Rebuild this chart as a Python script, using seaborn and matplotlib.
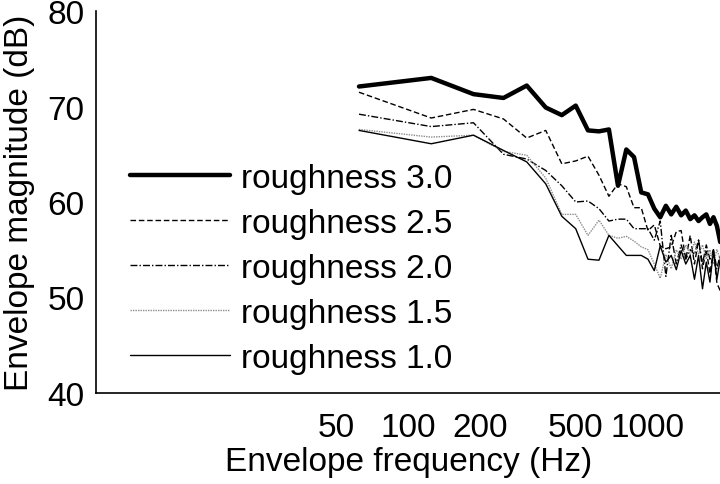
import numpy as np
import pandas as pd
import matplotlib
matplotlib.use("Agg")
import matplotlib.pyplot as plt
import seaborn as sns

# envelope frequencies: harmonics of 62.5 Hz
freqs = [62.5 * k for k in range(1, 33)]

rough_30 = [72.1, 73.0, 71.3, 70.9, 72.2, 69.9, 69.1, 70.1, 67.5, 67.4,
            67.6, 61.7, 65.5, 64.7, 61.0, 60.8, 59.3, 58.4, 59.6, 58.7,
            59.5, 58.6, 59.1, 58.2, 58.6, 58.0, 58.4, 58.7, 57.7, 58.4,
            57.5, 55.8]
rough_25 = [71.5, 68.8, 69.7, 68.7, 66.7, 67.5, 64.0, 64.3, 64.8, 62.8,
            60.6, 61.9, 61.6, 59.4, 59.4, 57.0, 57.6, 55.4, 55.1, 55.3,
            56.9, 57.0, 54.0, 56.5, 53.5, 56.0, 53.0, 55.0, 52.5, 55.0,
            51.5, 50.7]
rough_20 = [69.2, 67.9, 68.3, 65.0, 64.5, 63.3, 61.7, 60.0, 60.1, 59.3,
            58.0, 58.2, 58.2, 57.2, 57.2, 57.2, 56.0, 58.0, 52.2, 56.5,
            53.5, 55.5, 54.0, 55.0, 54.5, 56.0, 53.5, 55.5, 54.0, 55.0,
            53.0, 54.5]
rough_15 = [67.6, 66.8, 67.0, 65.3, 64.9, 62.5, 58.7, 58.7, 56.5, 58.1,
            56.5, 56.2, 56.4, 55.9, 55.3, 55.0, 53.5, 52.0, 54.5, 53.0,
            55.0, 54.0, 55.5, 54.5, 55.8, 54.5, 55.5, 54.0, 55.0, 53.5,
            55.0, 54.0]
rough_10 = [67.5, 66.1, 67.0, 65.4, 64.2, 61.9, 58.5, 57.2, 54.0, 53.9,
            56.5, 55.4, 54.4, 54.4, 54.4, 54.0, 52.8, 55.4, 53.7, 54.4,
            52.9, 54.9, 53.5, 54.4, 51.9, 54.4, 50.9, 53.7, 51.6, 54.9,
            51.9, 54.0]

labels = ["roughness 3.0", "roughness 2.5", "roughness 2.0",
          "roughness 1.5", "roughness 1.0"]
series = [rough_30, rough_25, rough_20, rough_15, rough_10]

major_ticks = [50, 100, 200, 500, 1000]
minor_ticks = [10, 15, 20, 25, 30, 35, 40, 45,
               150, 250, 300, 350, 400, 450,
               600, 700, 800, 900, 1200, 1400, 1500, 1600, 1800, 2000]

styles = [
    dict(color="black", linewidth=3.2, linestyle="-"),
    dict(color="black", linewidth=1.0, linestyle=(0, (4, 2))),
    dict(color="black", linewidth=1.0, linestyle=(0, (5, 1.5, 1, 1.5))),
    dict(color="0.55", linewidth=1.0, linestyle=(0, (1, 0.8))),
    dict(color="black", linewidth=1.0, linestyle="-"),
]

FS = 24

sns.set_style("white")
plt.rcParams["font.family"] = ["Liberation Sans", "DejaVu Sans"]
plt.rcParams["text.color"] = "black"
plt.rcParams["axes.labelcolor"] = "black"

fig = plt.figure(figsize=(7.2, 4.85), dpi=100)
ax = fig.add_axes([0.133, 0.188, 0.868, 0.787])

for vals, lab, st in zip(series, labels, styles):
    df = pd.DataFrame({"freq": freqs, "mag": vals})
    sns.lineplot(data=df, x="freq", y="mag", ax=ax, label=lab, **st)

ax.set_xscale("log")
ax.set_xlim(5, 2010)
ax.set_ylim(40, 80)
ax.set_xticks(major_ticks)
ax.set_xticklabels([str(t) for t in major_ticks])
ax.set_xticks(minor_ticks, minor=True)
ax.set_xticklabels([], minor=True)
ax.set_yticks([40, 50, 60, 70, 80])
ax.tick_params(axis="both", which="major", direction="in", length=4,
               width=1, labelsize=FS, colors="black", pad=8)
ax.tick_params(axis="x", which="minor", direction="in", length=3, width=1)
ax.tick_params(axis="x", which="major", length=6, pad=14)

for s in ["top", "right"]:
    ax.spines[s].set_visible(False)
for s in ["left", "bottom"]:
    ax.spines[s].set_color("black")
    ax.spines[s].set_linewidth(1.2)

ax.set_xlabel("Envelope frequency (Hz)", fontsize=FS, labelpad=2)
ax.set_ylabel("Envelope magnitude (dB)", fontsize=FS, labelpad=9)

leg = ax.legend(loc="upper left", bbox_to_anchor=(0.18, 0.662),
                bbox_transform=fig.transFigure, frameon=False,
                fontsize=FS, handlelength=3.0, handletextpad=0.33,
                labelspacing=0.42, borderpad=0, borderaxespad=0)
for t in leg.get_texts():
    t.set_color("black")

fig.savefig("out.png", dpi=100)
